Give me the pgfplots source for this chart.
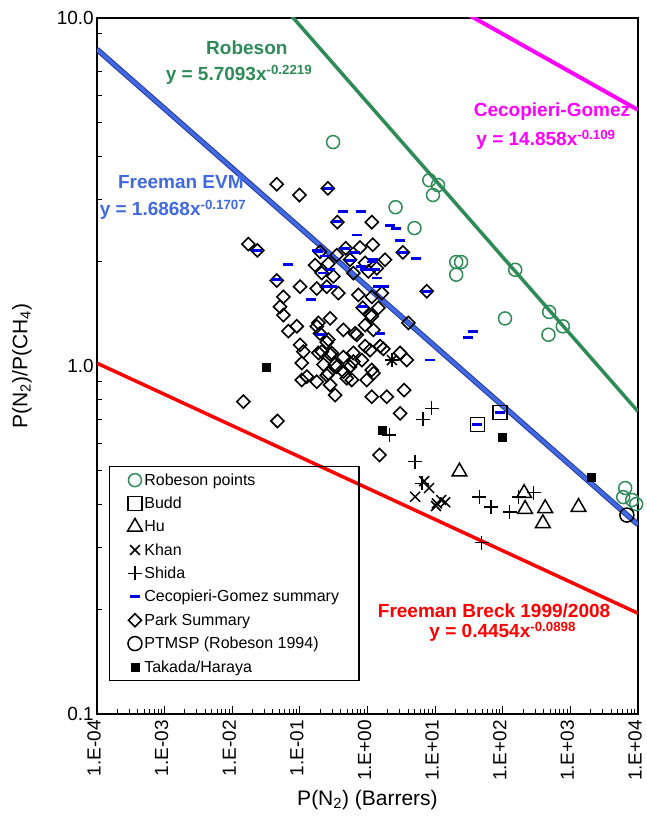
\documentclass[border=0pt]{standalone}
\usepackage{pgfplots}
\pgfplotsset{compat=1.18}
\usepackage{fontspec}
\setmainfont{Liberation Sans}
\definecolor{rgreen}{RGB}{46,139,87}
\definecolor{cmag}{RGB}{255,0,255}
\definecolor{evmblue}{RGB}{65,105,225}
\definecolor{evmdark}{RGB}{35,55,160}
\definecolor{dashblue}{RGB}{0,0,230}
\definecolor{fred}{RGB}{255,0,0}
\pgfplotsset{
  robpt/.style={only marks, mark=o, mark size=6.5pt, mark options={draw=rgreen, line width=1.5pt}},
  budd/.style={only marks, mark=square, mark size=7pt, mark options={draw=black, line width=1.5pt}},
  hu/.style={only marks, mark=triangle, mark size=8.5pt, mark options={draw=black, line width=1.5pt}},
  khan/.style={only marks, mark=x, mark size=7pt, mark options={draw=black, line width=1.5pt}},
  shida/.style={only marks, mark=+, mark size=7pt, mark options={draw=black, line width=1.5pt}},
  cgs/.style={only marks, mark=-, mark size=5pt, mark options={draw=dashblue, line width=2.8pt}},
  park/.style={only marks, mark=square, mark size=4.6pt, mark options={draw=black, rotate=45, line width=1.6pt}},
  ptmsp/.style={only marks, mark=o, mark size=7pt, mark options={draw=black, line width=1.5pt}},
  takada/.style={only marks, mark=square*, mark size=4pt, mark options={draw=black, fill=black, line width=0.5pt}},
}
\begin{document}
\begin{tikzpicture}
\begin{axis}[
  at={(0,0)}, anchor=south west,
  scale only axis, width=541pt, height=696pt,
  xmode=log, ymode=log,
  xmin=1e-4, xmax=1e4, ymin=0.1, ymax=10,
  xtick={1e-4,1e-3,1e-2,1e-1,1,10,100,1000,10000},
  xticklabels={1.E-04,1.E-03,1.E-02,1.E-01,1.E+00,1.E+01,1.E+02,1.E+03,1.E+04},
  ytick={0.1,1,10}, yticklabels={0.1,1.0,10.0},
  minor xtick={2e-4,3e-4,4e-4,5e-4,6e-4,7e-4,8e-4,9e-4,
               2e-3,3e-3,4e-3,5e-3,6e-3,7e-3,8e-3,9e-3,
               2e-2,3e-2,4e-2,5e-2,6e-2,7e-2,8e-2,9e-2,
               0.2,0.3,0.4,0.5,0.6,0.7,0.8,0.9,
               2,3,4,5,6,7,8,9,
               20,30,40,50,60,70,80,90,
               200,300,400,500,600,700,800,900,
               2000,3000,4000,5000,6000,7000,8000,9000},
  minor ytick={0.2,0.3,0.4,0.5,0.6,0.7,0.8,0.9,2,3,4,5,6,7,8,9},
  xtick pos=bottom, ytick pos=left, tick align=inside,
  major tick length=8pt, minor tick length=5pt,
  every tick/.style={black, line width=1pt},
  axis line style={line width=2pt},
  /pgf/number format/assume math mode=true,
  xticklabel style={rotate=90, anchor=east, font=\fontsize{19}{19}\selectfont, inner sep=1pt, xshift=-5pt, yshift=3pt},
  yticklabel style={font=\fontsize{19}{19}\selectfont, inner sep=3pt},
  xlabel={P(N\textsubscript{2}) (Barrers)},
  ylabel={P(N\textsubscript{2})/P(CH\textsubscript{4})},
  every axis x label/.style={at={(rel axis cs:0.5,0)}, yshift=-86pt, anchor=center, font=\fontsize{21}{24}\selectfont},
  every axis y label/.style={at={(rel axis cs:0,0.5)}, xshift=-75pt, rotate=90, anchor=center, font=\fontsize{21}{24}\selectfont},
  legend style={at={(rel axis cs:0.0222,0.3563)}, anchor=north west, draw=black, line width=1.2pt, fill=none,
    inner xsep=18pt, inner ysep=5pt, font=\fontsize{16}{19}\selectfont, row sep=6.3pt},
  legend cell align=left,
]
% legend
\addlegendimage{robpt}\addlegendentry{Robeson points}
\addlegendimage{budd}\addlegendentry{Budd}
\addlegendimage{hu}\addlegendentry{Hu}
\addlegendimage{khan}\addlegendentry{Khan}
\addlegendimage{shida}\addlegendentry{Shida}
\addlegendimage{cgs}\addlegendentry{Cecopieri-Gomez summary}
\addlegendimage{park}\addlegendentry{Park Summary}
\addlegendimage{ptmsp}\addlegendentry{PTMSP (Robeson 1994)}
\addlegendimage{takada}\addlegendentry{Takada/Haraya}

% Park Summary
\addplot[park, forget plot] coordinates {
(0.0455,3.33) (0.0984,3.10) (0.259,3.24) (0.359,2.59) (1.158,2.59)
(0.0173,2.24) (0.0235,2.15) (3.33,2.12) (0.478,2.18) (0.777,2.19)
(1.198,2.23) (0.351,2.08) (0.199,2.13) (0.168,1.95) (0.264,1.97)
(0.553,2.02) (0.922,1.98) (1.821,2.02) (1.373,1.91) (0.211,1.85)
(0.313,1.81) (0.618,1.85) (1.031,1.87) (0.0455,1.76) (0.1007,1.69)
(0.250,1.69) (0.178,1.67) (0.371,1.62) (0.733,1.60) (1.158,1.58)
(1.628,1.62) (7.54,1.64) (0.0570,1.58) (0.0509,1.48) (0.0570,1.40)
(0.0676,1.26) (0.0900,1.30) (0.188,1.33) (0.280,1.37) (0.440,1.27)
(0.656,1.24) (0.852,1.47) (1.093,1.40) (1.449,1.47) (1.223,1.27)
(0.199,1.24) (0.250,1.17) (0.1007,1.15) (0.1127,1.10) (0.188,1.09)
(0.296,1.09) (0.440,1.06) (0.618,1.09) (0.922,1.14) (1.719,1.12)
(3.035,1.09) (3.81,1.04) (0.1067,1.02) (0.1265,0.932) (0.1067,0.912)
(0.223,1.01) (0.264,0.953) (0.351,0.995) (0.440,0.963) (0.553,0.995)
(0.494,0.922) (0.586,0.912) (0.824,1.04) (1.158,0.974) (0.976,0.912)
(0.280,0.882) (0.332,0.825) (1.158,0.816) (1.930,0.816) (3.48,0.853)
(0.0146,0.790) (0.178,0.901) (4.03,1.33) (3.035,0.731) (1.50,0.555)
(0.0465,0.695) (0.922,1.31) (0.211,1.10) (0.280,1.08) (0.332,1.01)
(0.250,0.94) (0.618,1.03) (1.223,0.953) (0.694,1.23) (0.178,1.30)
(0.264,1.19) (1.093,1.11) (1.54,1.14) (1.158,1.39)
};
% Budd
\addplot[budd, forget plot] coordinates {(42.2,0.680) (91.5,0.736)};
% Hu
\addplot[hu, forget plot] coordinates {(22.9,0.497) (207,0.431) (214,0.388) (424,0.390) (392,0.353) (1320,0.393)};
% Khan
\addplot[khan, forget plot] coordinates {(5.06,0.421) (6.88,0.467) (8.15,0.446) (10.6,0.403) (12.3,0.412) (14.1,0.406) (10.3,0.396) (2.3,1.04)};
% Shida
\addplot[shida, forget plot] coordinates {(8.9,0.756) (6.6,0.703) (2.1,0.634) (5.06,0.531) (6.36,0.460) (45.2,0.420) (66.7,0.394) (126,0.381) (171,0.420) (285,0.433) (48.9,0.311) (2.3,1.04)};
% Cecopieri-Gomez summary
\addplot[cgs, forget plot] coordinates {
(0.440,2.78) (0.795,2.78) (0.359,2.60) (0.694,2.38) (2.16,2.54)
(2.65,2.48) (3.03,2.30) (3.40,2.12) (5.23,2.04) (0.264,3.24)
(0.466,2.18) (0.656,2.12) (1.22,2.02) (0.188,2.13) (0.236,2.07)
(0.553,2.01) (1.30,1.89) (0.92,1.89) (1.37,1.79) (1.45,1.69)
(1.76,1.69) (0.28,1.89) (0.0235,2.15) (0.0676,1.96) (0.0455,1.77)
(0.178,2.15) (0.145,1.55) (0.223,1.85) (0.80,1.93) (1.16,1.99)
(0.87,1.48) (1.54,1.24) (8.4,1.04) (7.54,1.64) (0.20,1.23)
(0.25,1.69) (0.30,1.69) (36.1,1.255) (31.1,1.21) (42.2,0.680) (91.5,0.736)
};
% Robeson points
\addplot[robpt, forget plot] coordinates {
(0.31,4.40) (2.6,2.86) (8.2,3.42) (11,3.31) (9.3,3.10) (4.95,2.49)
(20.5,1.99) (24.2,1.99) (20.5,1.83) (153,1.89) (108,1.37) (486,1.43)
(774,1.30) (474,1.23) (6470,0.446) (6040,0.420) (9400,0.401) (8200,0.412)
};
% PTMSP
\addplot[ptmsp, forget plot] coordinates {(6850,0.373)};
% Takada/Haraya
\addplot[takada, forget plot] coordinates {(0.0313,0.989) (1.68,0.655) (100,0.626) (2030,0.478)};

% trend lines
\addplot[draw=rgreen, line width=3.5pt, forget plot] coordinates {(1e-4,44.07) (1e4,0.740)};
\addplot[draw=cmag, line width=4pt, forget plot] coordinates {(1e-4,40.55) (1e4,5.444)};
\addplot[draw=evmdark, line width=5.5pt, forget plot] coordinates {(1e-4,8.125) (1e4,0.3502)};
\addplot[draw=evmblue, line width=3.5pt, forget plot] coordinates {(1e-4,8.125) (1e4,0.3502)};
\addplot[draw=fred, line width=3.5pt, forget plot] coordinates {(1e-4,1.019) (1e4,0.1948)};

% annotations
\node[text=rgreen, font=\bfseries\fontsize{19}{22}\selectfont] at (rel axis cs:0.277,0.958) {Robeson};
\node[text=rgreen, font=\bfseries\fontsize{19}{22}\selectfont] at (rel axis cs:0.2625,0.918) {y = 5.7093x\textsuperscript{-0.2219}};
\node[text=evmblue, font=\bfseries\fontsize{19}{22}\selectfont] at (rel axis cs:0.155,0.764) {Freeman EVM};
\node[text=evmblue, font=\bfseries\fontsize{19}{22}\selectfont] at (rel axis cs:0.1405,0.724) {y = 1.6868x\textsuperscript{-0.1707}};
\node[text=cmag, font=\bfseries\fontsize{19}{22}\selectfont] at (rel axis cs:0.841,0.865) {Cecopieri-Gomez};
\node[text=cmag, font=\bfseries\fontsize{19}{22}\selectfont] at (rel axis cs:0.830,0.825) {y = 14.858x\textsuperscript{-0.109}};
\node[text=fred, font=\bfseries\fontsize{19}{22}\selectfont] at (rel axis cs:0.734,0.148) {Freeman Breck 1999/2008};
\node[text=fred, font=\bfseries\fontsize{19}{22}\selectfont] at (rel axis cs:0.750,0.118) {y = 0.4454x\textsuperscript{-0.0898}};
\end{axis}
\pgfresetboundingbox
\path (-97pt,-107pt) rectangle (549pt,714pt);
\end{tikzpicture}
\end{document}
